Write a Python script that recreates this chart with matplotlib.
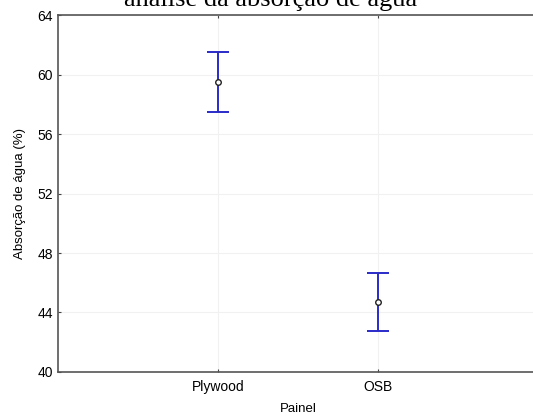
import matplotlib.pyplot as plt

# ===== DATA =====
paineis = ["Plywood", "OSB"]
medias = [59.5, 44.7]
erros = [2.0, 1.95]
yticks = [40, 44, 48, 52, 56, 60, 64]

plt.rcParams["font.family"] = ["Liberation Sans", "DejaVu Sans"]

fig = plt.figure(figsize=(5.33, 4.16), dpi=100)
# right edge of the plot box runs past the picture, as in the original
ax = fig.add_axes([0.1088, 0.1058, 0.9006, 0.858])

pos = list(range(1, len(paineis) + 1))

# ===== GRID =====
ax.grid(True, color="#f1f1f1", linewidth=0.8)
ax.set_axisbelow(True)

# ===== ERROR BARS =====
ax.errorbar(pos, medias, yerr=erros, fmt="none", ecolor="#2a2ac8",
            elinewidth=1.4, capsize=8, capthick=1.4, zorder=3)
ax.plot(pos, medias, "o", markersize=4, markerfacecolor="white",
        markeredgecolor="#222222", markeredgewidth=1.0, zorder=4)

# ===== AXES =====
ax.set_xlim(0, 3)
ax.set_ylim(40, 64)
ax.set_xticks(pos)
ax.set_xticklabels(paineis)
ax.set_yticks(yticks)
ax.tick_params(axis="both", labelsize=10, length=2, width=0.8,
               direction="in", top=True, color="#444444")
ax.tick_params(axis="x", pad=6)
for s in ax.spines.values():
    s.set_color("#555555")
    s.set_linewidth(1.2)

ax.set_xlabel("Painel", fontsize=9.5, labelpad=6)
ax.set_ylabel("Absorção de água (%)", fontsize=9.5, labelpad=8)

fig.text(0.507, 0.986, "análise da absorção de água", ha="center",
         va="baseline", fontsize=19, family=["Liberation Serif", "DejaVu Serif"])

fig.savefig("out.png", dpi=100)
